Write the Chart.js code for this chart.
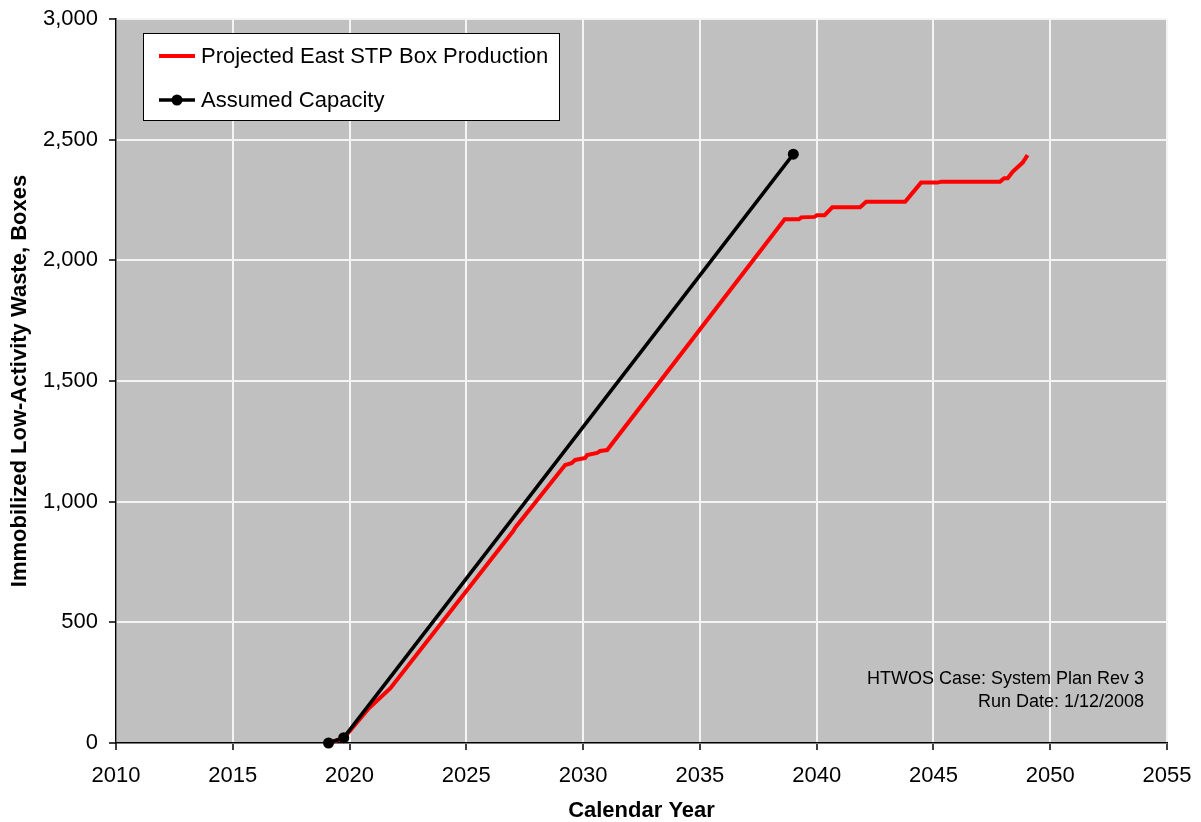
<!DOCTYPE html>
<html>
<head>
<meta charset="utf-8">
<script src="https://cdn.jsdelivr.net/npm/chart.js@4/dist/chart.umd.min.js"></script>
<style>
html,body{margin:0;padding:0;background:#fff;}
canvas{display:block;}
</style>
</head>
<body>
<canvas id="c" width="1201" height="822"></canvas>
<script>
// ---- Data ----
const seriesNames = ["Projected East STP Box Production", "Assumed Capacity"];

const productionYears = [2019.1, 2019.75, 2020.83, 2021.75, 2027.0, 2027.1, 2029.23, 2029.5, 2029.66, 2030.09, 2030.17, 2030.6, 2030.73, 2031.03,
  2038.63, 2039.24, 2039.34, 2039.91, 2040.01, 2040.34, 2040.67, 2041.86, 2042.12, 2043.79, 2043.97, 2044.47, 2045.18, 2045.33,
  2047.85, 2048.03, 2048.18, 2048.39, 2048.82, 2049.03];
const productionBoxes = [0, 20, 144, 227, 877, 893, 1152, 1159, 1173, 1181, 1193, 1202, 1210, 1214,
  2170, 2170, 2178, 2180, 2187, 2187, 2220, 2220, 2243, 2243, 2264, 2322, 2322, 2326,
  2326, 2340, 2340, 2367, 2405, 2436];

const capacityYears = [2019.1, 2019.75, 2039.0];
const capacityBoxes = [0, 22, 2440];

const xTickMin = 2010, xTickMax = 2055, xTickStep = 5;
const yTickMin = 0, yTickMax = 3000, yTickStep = 500;

const axisTitleX = "Calendar Year";
const axisTitleY = "Immobilized Low-Activity Waste, Boxes";
const noteLines = ["HTWOS Case: System Plan Rev 3", "Run Date: 1/12/2008"];

// ---- Build chart ----
const toPoints = (xs, ys) => xs.map((x, i) => ({x: x, y: ys[i]}));
const FONT = "'Liberation Sans', Arial, sans-serif";

const plotBg = {
  id: 'plotBg',
  beforeDraw(chart) {
    const {ctx, chartArea: a} = chart;
    ctx.save();
    ctx.fillStyle = '#c0c0c0';
    ctx.fillRect(a.left, a.top, a.right - a.left, a.bottom - a.top);
    ctx.restore();
  }
};

const customLegend = {
  id: 'customLegend',
  afterDraw(chart) {
    const ctx = chart.ctx;
    const bx = 143.5, by = 33.5, bw = 416, bh = 87;
    ctx.save();
    ctx.fillStyle = '#ffffff';
    ctx.fillRect(bx, by, bw, bh);
    ctx.strokeStyle = '#000';
    ctx.lineWidth = 1;
    ctx.strokeRect(bx, by, bw, bh);
    ctx.font = "22px " + FONT;
    ctx.textBaseline = 'middle';
    ctx.textAlign = 'left';
    const rows = [56, 100];
    chart.data.datasets.forEach((ds, i) => {
      const y = rows[i];
      ctx.strokeStyle = ds.borderColor;
      ctx.lineWidth = ds.borderWidth;
      ctx.beginPath();
      ctx.moveTo(159, y);
      ctx.lineTo(195, y);
      ctx.stroke();
      if (ds.pointRadius > 0) {
        ctx.fillStyle = ds.pointBackgroundColor;
        ctx.beginPath();
        ctx.arc(177, y, ds.pointRadius, 0, Math.PI * 2);
        ctx.fill();
      }
      ctx.fillStyle = '#000';
      ctx.fillText(ds.label, 201, y + 1);
    });
    ctx.restore();
  }
};

const note = {
  id: 'note',
  afterDraw(chart) {
    const ctx = chart.ctx;
    ctx.save();
    ctx.font = "18px " + FONT;
    ctx.fillStyle = '#000';
    ctx.textAlign = 'right';
    ctx.textBaseline = 'middle';
    ctx.fillText(noteLines[0], 1144, 679);
    ctx.fillText(noteLines[1], 1144, 702);
    ctx.restore();
  }
};

new Chart(document.getElementById('c'), {
  type: 'line',
  data: {
    datasets: [
      {
        label: seriesNames[0],
        data: toPoints(productionYears, productionBoxes),
        borderColor: '#ff0000',
        borderWidth: 4,
        pointRadius: 0,
        tension: 0,
        fill: false,
        clip: false,
        order: 2
      },
      {
        label: seriesNames[1],
        data: toPoints(capacityYears, capacityBoxes),
        borderColor: '#000000',
        backgroundColor: '#000000',
        pointBackgroundColor: '#000000',
        pointBorderColor: '#000000',
        borderWidth: 3.5,
        pointRadius: 5.5,
        pointBorderWidth: 0,
        tension: 0,
        fill: false,
        clip: false,
        order: 1
      }
    ]
  },
  options: {
    responsive: false,
    animation: false,
    devicePixelRatio: 1,
    layout: { padding: { left: 0, right: 34, top: 19, bottom: 0 } },
    plugins: {
      legend: { display: false },
      tooltip: { enabled: false }
    },
    scales: {
      x: {
        type: 'linear',
        min: xTickMin, max: xTickMax,
        afterFit(scale) { scale.height = 79; scale.paddingLeft = 0; scale.paddingRight = 0; },
        ticks: {
          stepSize: xTickStep,
          color: '#000',
          font: { family: FONT, size: 22 },
          padding: 13,
          maxRotation: 0,
          callback: v => String(v)
        },
        grid: { color: '#f4f4f4', lineWidth: 2, tickColor: '#000', tickLength: 7, tickWidth: 1.5 },
        border: { display: true, color: '#000', width: 1.5 },
        title: {
          display: true, text: axisTitleX, color: '#000',
          font: { family: FONT, size: 22, weight: 'bold', lineHeight: 1 },
          padding: { top: 0, bottom: 0 }
        }
      },
      y: {
        type: 'linear',
        min: yTickMin, max: yTickMax,
        afterFit(scale) { scale.width = 116; scale.paddingTop = 0; scale.paddingBottom = 0; },
        ticks: {
          stepSize: yTickStep,
          color: '#000',
          font: { family: FONT, size: 22 },
          padding: 11,
          callback: v => v.toLocaleString('en-US')
        },
        grid: { color: '#f4f4f4', lineWidth: 2, tickColor: '#000', tickLength: 7, tickWidth: 1.5 },
        border: { display: true, color: '#000', width: 1.5 },
        title: {
          display: true, text: axisTitleY, color: '#000',
          font: { family: FONT, size: 22, weight: 'bold', lineHeight: 1 },
          padding: { top: 9, bottom: 0 }
        }
      }
    }
  },
  plugins: [plotBg, customLegend, note]
});
</script>
</body>
</html>
